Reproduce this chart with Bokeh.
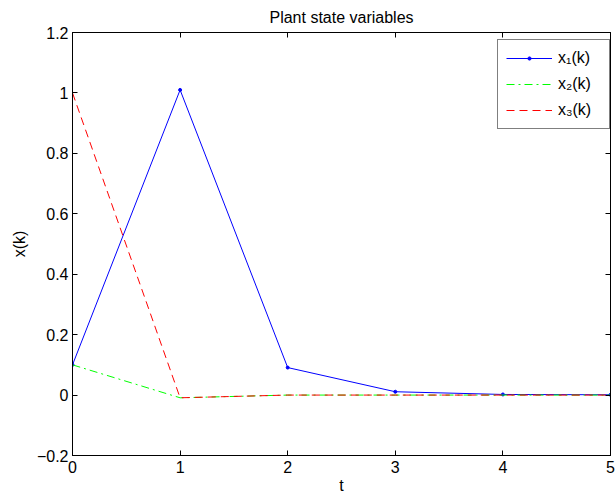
from bokeh.plotting import figure
from bokeh.models import LinearAxis, FixedTicker, Range1d
from bokeh.embed import file_html
from bokeh.resources import INLINE

# ---- data ----
t = [0, 1, 2, 3, 4, 5]
x1 = [0.1, 1.01, 0.091, 0.011, 0.002, 0.001]
x2 = [0.1, -0.009, 0.0, 0.0, 0.0, 0.0]
x3 = [1.0, -0.009, 0.0, 0.0, 0.0, 0.0]

x_ticks = [0, 1, 2, 3, 4, 5]
x_tick_labels = ["0", "1", "2", "3", "4", "5"]
y_ticks = [-0.2, 0, 0.2, 0.4, 0.6, 0.8, 1, 1.2]
y_tick_labels = ["\u22120.2", "0", "0.2", "0.4", "0.6", "0.8", "1", "1.2"]

title_text = "Plant state variables"
x_label = "t"
y_label = "x(k)"
series_labels = ["x\u2081(k)", "x\u2082(k)", "x\u2083(k)"]

FONT = "Liberation Sans"
FS = "16px"

p = figure(
    frame_width=538, frame_height=423,
    x_range=Range1d(0, 5), y_range=Range1d(-0.2, 1.2),
    output_backend="svg", toolbar_location=None,
    min_border_left=72, min_border_right=6, min_border_top=32, min_border_bottom=43,
    background_fill_color="white", border_fill_color="white",
)
p.grid.visible = False
p.outline_line_color = "black"
p.outline_line_width = 1

# title
p.title.text = title_text
p.title.text_font = FONT
p.title.text_font_size = FS
p.title.text_font_style = "normal"
p.title.align = "center"
p.title.vertical_align = "top"
p.title.text_color = "black"
p.title.standoff = 10


def style_axis(ax, labels=True):
    ax.axis_line_color = "black"
    ax.major_tick_line_color = "black"
    ax.minor_tick_line_color = None
    ax.major_tick_in = 5
    ax.major_tick_out = 0
    ax.major_label_text_font = FONT
    ax.major_label_text_font_size = FS if labels else "0px"
    ax.major_label_text_color = "black"
    ax.axis_label_text_font = FONT
    ax.axis_label_text_font_size = FS
    ax.axis_label_text_font_style = "normal"
    ax.axis_label_text_color = "black"


xa = p.xaxis[0]
ya = p.yaxis[0]
xa.ticker = FixedTicker(ticks=x_ticks)
ya.ticker = FixedTicker(ticks=y_ticks)
xa.major_label_overrides = {k: v for k, v in zip(x_ticks, x_tick_labels)}
ya.major_label_overrides = {k: v for k, v in zip(y_ticks, y_tick_labels)}
style_axis(xa)
style_axis(ya)
xa.axis_label = x_label
ya.axis_label = y_label
xa.major_label_standoff = 5
xa.axis_label_standoff = 1
ya.major_label_standoff = 4
ya.axis_label_standoff = 6

# box axes on top and right (ticks only)
top = LinearAxis(ticker=FixedTicker(ticks=x_ticks), major_label_standoff=0)
right = LinearAxis(ticker=FixedTicker(ticks=y_ticks), major_label_standoff=0)
style_axis(top, labels=False)
style_axis(right, labels=False)
top.major_label_overrides = {k: "" for k in x_ticks}
right.major_label_overrides = {k: "" for k in y_ticks}
p.add_layout(top, "above")
p.add_layout(right, "right")

# series
p.line(t, x1, line_color="blue", line_width=1, legend_label=series_labels[0])
p.scatter(t, x1, size=3, marker="circle", fill_color="blue", line_color="blue",
          legend_label=series_labels[0])
p.line(t, x2, line_color="lime", line_width=1, line_dash="8 4 2 4",
       legend_label=series_labels[1])
p.line(t, x3, line_color="red", line_width=1, line_dash="8 5",
       legend_label=series_labels[2])

lg = p.legend[0]
lg.location = (425, 326)
lg.border_line_color = "black"
lg.border_line_width = 1
lg.background_fill_color = "white"
lg.background_fill_alpha = 1
lg.label_text_font = FONT
lg.label_text_font_size = FS
lg.label_text_color = "black"
lg.glyph_width = 46
lg.glyph_height = 8
lg.label_height = 20
lg.label_width = 43
lg.label_standoff = 6
lg.spacing = 6
lg.padding = 8
lg.margin = 0

open("out.html", "w").write(file_html(p, INLINE))
